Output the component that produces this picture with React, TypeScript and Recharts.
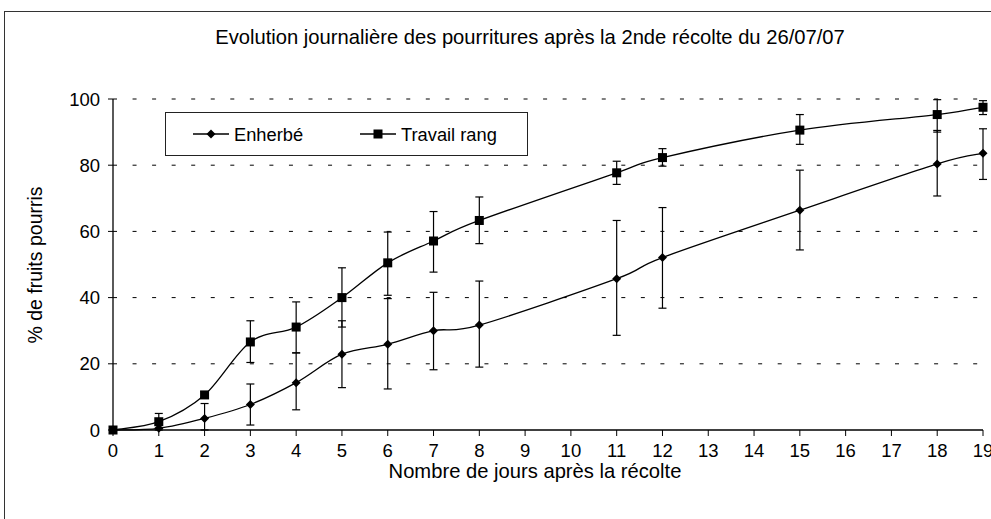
import React from "react";
import {
  LineChart,
  Line,
  XAxis,
  YAxis,
  CartesianGrid,
  ErrorBar,
} from "recharts";

const days = [0, 1, 2, 3, 4, 5, 6, 7, 8, 11, 12, 15, 18, 19];

const enherbe = [0, 0.5, 3.5, 7.7, 14.3, 22.9, 25.9, 30, 31.7, 45.7, 52.1, 66.4, 80.4, 83.6];
const enherbeLow = [0, 0, 0, 1.5, 6.1, 12.8, 12.4, 18.2, 19, 28.6, 36.8, 54.4, 70.7, 75.7];
const enherbeHigh = [0, 1.5, 8, 13.9, 23.3, 33, 39.7, 41.6, 45, 63.3, 67.2, 78.5, 90.5, 91];

const travail = [0, 2.5, 10.6, 26.6, 31.1, 40, 50.5, 57.1, 63.3, 77.7, 82.3, 90.6, 95.3, 97.5];
const travailLow = [0, 0.5, 9.6, 20.4, 23.3, 31.1, 40.7, 47.7, 56.3, 74.2, 79.7, 86.3, 90, 95.3];
const travailHigh = [0, 5, 11.6, 33, 38.7, 49, 59.8, 66, 70.4, 81.2, 85, 95.3, 99.8, 99.5];

const xTicks = [0, 1, 2, 3, 4, 5, 6, 7, 8, 9, 10, 11, 12, 13, 14, 15, 16, 17, 18, 19];
const yTicks = [0, 20, 40, 60, 80, 100];

const FONT = "'Liberation Sans', Arial, sans-serif";

const data = days.map((d, i) => ({
  day: d,
  enherbe: enherbe[i],
  enherbeErr: d === 0 ? null : [enherbe[i] - enherbeLow[i], enherbeHigh[i] - enherbe[i]],
  travail: travail[i],
  travailErr: d === 0 ? null : [travail[i] - travailLow[i], travailHigh[i] - travail[i]],
}));

// Excel-like "smoothed line": uniform Catmull-Rom as cubic beziers
function smoothCurve(context: any) {
  let pts: number[][] = [];
  return {
    areaStart() {},
    areaEnd() {},
    lineStart() {
      pts = [];
    },
    point(x: number, y: number) {
      pts.push([+x, +y]);
    },
    lineEnd() {
      if (!pts.length) return;
      context.moveTo(pts[0][0], pts[0][1]);
      for (let i = 0; i < pts.length - 1; i++) {
        const p0 = pts[i - 1] || pts[i];
        const p1 = pts[i];
        const p2 = pts[i + 1];
        const p3 = pts[i + 2] || p2;
        context.bezierCurveTo(
          p1[0] + (p2[0] - p0[0]) / 6,
          p1[1] + (p2[1] - p0[1]) / 6,
          p2[0] - (p3[0] - p1[0]) / 6,
          p2[1] - (p3[1] - p1[1]) / 6,
          p2[0],
          p2[1]
        );
      }
    },
  };
}

function Diamond(props: any) {
  const { cx, cy } = props;
  if (cx == null || cy == null) return null;
  const r = 4.5;
  return (
    <path
      d={`M${cx},${cy - r}L${cx + r},${cy}L${cx},${cy + r}L${cx - r},${cy}Z`}
      fill="#000"
    />
  );
}

function Square(props: any) {
  const { cx, cy } = props;
  if (cx == null || cy == null) return null;
  const s = 9;
  return <rect x={cx - s / 2} y={cy - s / 2} width={s} height={s} fill="#000" />;
}

function LegendBox() {
  return (
    <div
      style={{
        position: "absolute",
        left: 165,
        top: 112,
        width: 361,
        height: 42,
        border: "1px solid #222",
        background: "#fff",
      }}
    >
      <svg width={361} height={42} style={{ position: "absolute", left: 0, top: 0 }}>
        <line x1={27} y1={21} x2={63} y2={21} stroke="#000" strokeWidth={1.3} />
        <Diamond cx={45} cy={21} />
        <text x={68} y={27.5} fontFamily={FONT} fontSize={18.3}>
          Enherbé
        </text>
        <line x1={194} y1={21} x2={230} y2={21} stroke="#000" strokeWidth={1.3} />
        <Square cx={212} cy={21} />
        <text x={235} y={27.5} fontFamily={FONT} fontSize={18.3}>
          Travail rang
        </text>
      </svg>
    </div>
  );
}

export default function App() {
  return (
    <div
      style={{
        position: "absolute",
        left: 0,
        top: 0,
        width: 991,
        height: 519,
        overflow: "hidden",
        background: "#fff",
      }}
    >
      <div
        style={{
          position: "absolute",
          left: 4,
          top: 11,
          width: 1100,
          height: 700,
          borderLeft: "1.5px solid #333",
          borderTop: "1.5px solid #333",
        }}
      />
      <LineChart
        width={991}
        height={519}
        data={data}
        margin={{ top: 99, right: 8, bottom: 0, left: 0 }}
        style={{ position: "absolute", left: 0, top: 0 }}
      >
        <CartesianGrid
          vertical={false}
          stroke="#000"
          strokeDasharray="4 15.55"
          horizontalValues={[20, 40, 60, 80, 100]}
        />
        <XAxis
          dataKey="day"
          type="number"
          domain={[0, 19]}
          ticks={xTicks}
          interval={0}
          height={89}
          tickSize={6}
          tickMargin={8}
          axisLine={{ stroke: "#000", strokeWidth: 1.3 }}
          tickLine={{ stroke: "#000" }}
          tick={{ fill: "#000", fontSize: 18.5, fontFamily: FONT }}
        />
        <YAxis
          type="number"
          domain={[0, 100]}
          ticks={yTicks}
          width={113}
          tickSize={5}
          tickMargin={8}
          axisLine={{ stroke: "#000", strokeWidth: 1.3 }}
          tickLine={{ stroke: "#000" }}
          tick={{ fill: "#000", fontSize: 18.5, fontFamily: FONT }}
        />
        <Line
          type={smoothCurve as any}
          dataKey="enherbe"
          stroke="#000"
          strokeWidth={1.3}
          dot={<Diamond />}
          activeDot={false}
          isAnimationActive={false}
        >
          <ErrorBar dataKey="enherbeErr" width={4} stroke="#000" strokeWidth={1.2} direction="y" />
        </Line>
        <Line
          type={smoothCurve as any}
          dataKey="travail"
          stroke="#000"
          strokeWidth={1.3}
          dot={<Square />}
          activeDot={false}
          isAnimationActive={false}
        >
          <ErrorBar dataKey="travailErr" width={4} stroke="#000" strokeWidth={1.2} direction="y" />
        </Line>
      </LineChart>
      <LegendBox />
      <svg
        width={991}
        height={519}
        style={{ position: "absolute", left: 0, top: 0, pointerEvents: "none" }}
      >
        <text x={530} y={44} textAnchor="middle" fontFamily={FONT} fontSize={20.2} fill="#000">
          Evolution journalière des pourritures après la 2nde récolte du 26/07/07
        </text>
        <text
          x={42}
          y={265}
          textAnchor="middle"
          fontFamily={FONT}
          fontSize={19.5}
          fill="#000"
          transform="rotate(-90 42 265)"
        >
          % de fruits pourris
        </text>
        <text x={535} y={478} textAnchor="middle" fontFamily={FONT} fontSize={20.2} fill="#000">
          Nombre de jours après la récolte
        </text>
      </svg>
    </div>
  );
}
